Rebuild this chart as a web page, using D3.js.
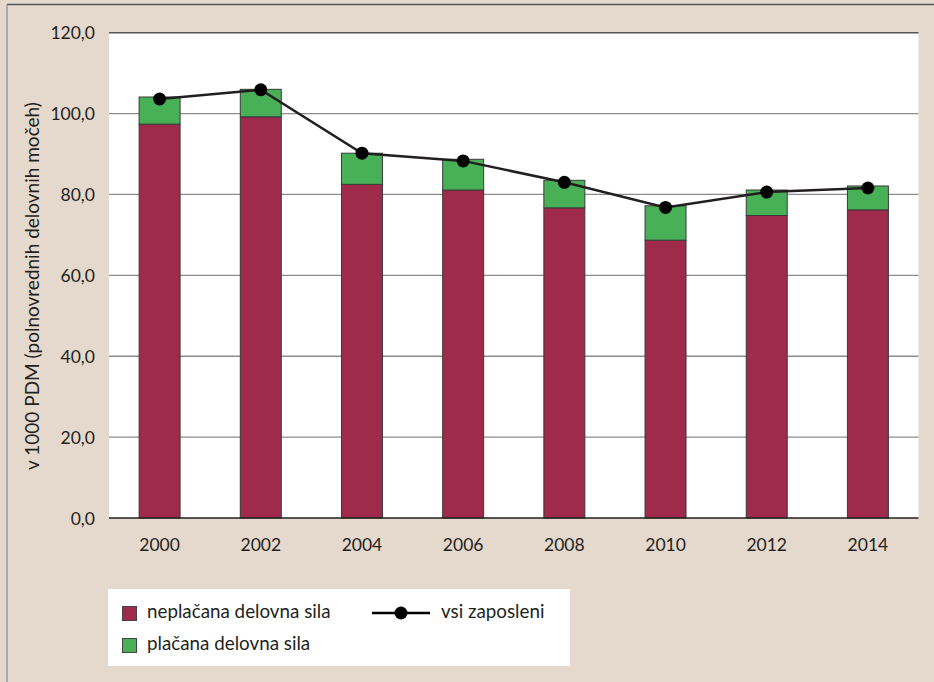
<!DOCTYPE html>
<html><head><meta charset="utf-8">
<script src="https://cdn.jsdelivr.net/npm/d3@7"></script>
<style>
html,body{margin:0;padding:0;background:#e5d9cd;}
svg{display:block;}
text{font-family:Lato,"Open Sans",sans-serif;fill:#231f20;}
</style></head><body>
<script>
const years = ["2000","2002","2004","2006","2008","2010","2012","2014"];
const unpaid = [97.4, 99.2, 82.5, 81.1, 76.7, 68.7, 74.8, 76.2];
const paid   = [6.7, 6.8, 7.7, 7.6, 6.8, 8.5, 6.3, 5.9];
const allEmployed = [103.6, 105.9, 90.2, 88.3, 83.0, 76.8, 80.6, 81.6];
const yTicks = [0, 20, 40, 60, 80, 100, 120];
const labels = {unpaid:"neplačana delovna sila", paid:"plačana delovna sila", line:"vsi zaposleni",
  yTitle:"v 1000 PDM (polnovrednih delovnih močeh)"};

const W=934,H=682;
const svg=d3.select("body").append("svg").attr("width",W).attr("height",H);
svg.append("rect").attr("width",W).attr("height",H).attr("fill","#e5d9cd");
// frame lines
svg.append("line").attr("x1",7).attr("x2",W).attr("y1",4.5).attr("y2",4.5).attr("stroke","#555").attr("stroke-width",1.5);
svg.append("line").attr("x1",7).attr("x2",7).attr("y1",4.5).attr("y2",H).attr("stroke","#999").attr("stroke-width",1.5);

const L=109,R=918.5,T=32.7,B=518;
svg.append("rect").attr("x",L).attr("y",T).attr("width",R-L).attr("height",B-T).attr("fill","#fff");

const x=d3.scaleBand().domain(years).range([L,R]).paddingInner(0.595).paddingOuter(0.2975);
const y=d3.scaleLinear().domain([0,120]).range([B,T]);

// gridlines
svg.append("g").selectAll("line").data(yTicks.filter(d=>d>0)).join("line")
  .attr("x1",L).attr("x2",R).attr("y1",d=>y(d)).attr("y2",d=>y(d))
  .attr("stroke",d=>d===120?"#555":"#8c8c8c").attr("stroke-width",d=>d===120?1.6:1.3);

// y axis labels
const yAxis=d3.axisLeft(y).tickValues(yTicks).tickSize(0).tickPadding(14)
  .tickFormat(d=>d3.format(".1f")(d).replace(".",","));
const gy=svg.append("g").attr("transform",`translate(${L},0)`).call(yAxis);
gy.select(".domain").remove();
gy.selectAll("text").attr("font-size",17.5).style("font-family","Lato,'Open Sans',sans-serif").attr("fill","#231f20").attr("dy","0.35em");

// bars
const bars=svg.append("g");
years.forEach((yr,i)=>{
  bars.append("rect").attr("x",x(yr)).attr("width",x.bandwidth())
    .attr("y",y(unpaid[i])).attr("height",y(0)-y(unpaid[i]))
    .attr("fill","#a02a4b").attr("stroke","#3a3a3a").attr("stroke-width",1);
  bars.append("rect").attr("x",x(yr)).attr("width",x.bandwidth())
    .attr("y",y(unpaid[i]+paid[i])).attr("height",y(unpaid[i])-y(unpaid[i]+paid[i]))
    .attr("fill","#48b056").attr("stroke","#3a3a3a").attr("stroke-width",1);
});

// x axis
const xAxis=d3.axisBottom(x).tickSize(0).tickPadding(21);
const gx=svg.append("g").attr("transform",`translate(0,${B})`).call(xAxis);
gx.select(".domain").attr("stroke","#231f20").attr("stroke-width",1.5).attr("d",`M${L},0H${R}`);
gx.selectAll("text").attr("font-size",17.5).style("font-family","Lato,'Open Sans',sans-serif").attr("fill","#231f20");

// line
const line=d3.line().x((d,i)=>x(years[i])+x.bandwidth()/2).y(d=>y(d));
svg.append("path").datum(allEmployed).attr("d",line).attr("fill","none").attr("stroke","#231f20").attr("stroke-width",2.5);
svg.append("g").selectAll("circle").data(allEmployed).join("circle")
  .attr("cx",(d,i)=>x(years[i])+x.bandwidth()/2).attr("cy",d=>y(d)).attr("r",6.5).attr("fill","#000");

// y title
svg.append("text").attr("transform",`translate(38.5,286) rotate(-90)`).attr("text-anchor","middle")
  .attr("font-size",19).text(labels.yTitle);

// legend
svg.append("rect").attr("x",108).attr("y",589).attr("width",462).attr("height",77).attr("fill","#fff");
const lg=svg.append("g");
lg.append("rect").attr("x",122.5).attr("y",606.5).attr("width",14).attr("height",14).attr("fill","#a02a4b").attr("stroke","#444");
lg.append("text").attr("x",147).attr("y",618).attr("font-size",18.8).text(labels.unpaid);
lg.append("rect").attr("x",122.5).attr("y",638.5).attr("width",14).attr("height",14).attr("fill","#48b056").attr("stroke","#444");
lg.append("text").attr("x",147).attr("y",650).attr("font-size",18.8).text(labels.paid);
lg.append("line").attr("x1",372).attr("x2",430).attr("y1",613).attr("y2",613).attr("stroke","#000").attr("stroke-width",2.5);
lg.append("circle").attr("cx",401).attr("cy",613).attr("r",6.5).attr("fill","#000");
lg.append("text").attr("x",441).attr("y",618).attr("font-size",18.8).text(labels.line);
</script></body></html>
